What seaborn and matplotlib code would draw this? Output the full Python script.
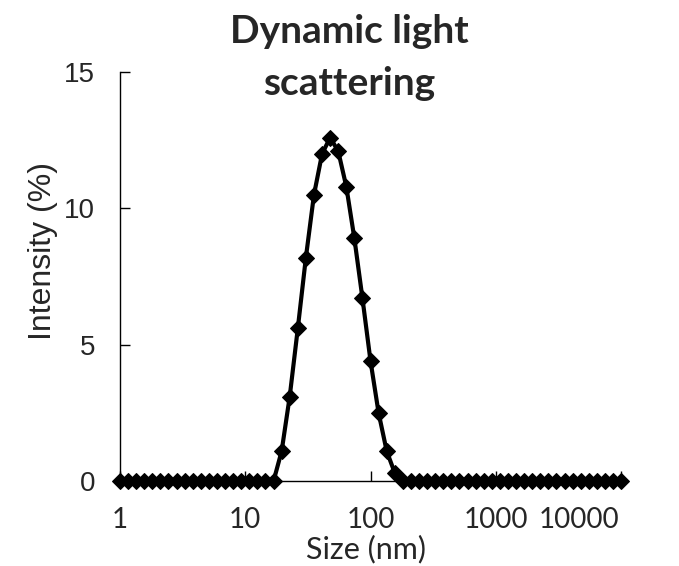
import numpy as np
import pandas as pd
import seaborn as sns
import matplotlib.pyplot as plt
from matplotlib.transforms import ScaledTranslation

# --- dados ---
tamanho_nm = [
    1.000, 1.160, 1.346, 1.561, 1.811, 2.101, 2.438, 2.828, 3.281, 3.807,
    4.417, 5.124, 5.945, 6.898, 8.003, 9.284, 10.77, 12.50, 14.50, 16.82,
    19.52, 22.64, 26.27, 30.48, 35.36, 41.03, 47.60, 55.22, 64.07, 74.32,
    86.23, 100.0, 116.0, 134.6, 156.1, 181.1, 210.1, 243.8, 282.8, 328.1,
    380.7, 441.7, 512.4, 594.5, 689.8, 800.3, 928.4, 1077, 1250, 1450,
    1682, 1952, 2264, 2627, 3048, 3536, 4103, 4760, 5522, 6407,
    7432, 8623, 10000,
]
intensidade = (
    [0.0] * 20
    + [1.1, 3.1, 5.6, 8.2, 10.5, 12.0, 12.6, 12.1, 10.8, 8.9,
       6.7, 4.4, 2.5, 1.1, 0.3]
    + [0.0] * 28
)
ticks_x = [1, 10, 100, 1000, 10000]
ticks_y = [0, 5, 10, 15]

dados = pd.DataFrame({'Size': tamanho_nm, 'Intensity': intensidade})

sns.set_style('white')
fig = plt.figure(figsize=(6.79, 5.66), dpi=100)
ax = fig.add_axes([0.1767, 0.150, 0.738, 0.7226])

sns.lineplot(data=dados, x='Size', y='Intensity', ax=ax, color='black',
             linewidth=3.0, marker='D', markersize=8, markeredgecolor='black',
             markerfacecolor='black', estimator=None, sort=False)
for linha in ax.lines:
    linha.set_clip_on(False)

ax.set_xscale('log')
ax.set_xlim(1, 10000)
ax.set_ylim(0, 15)
ax.set_xticks(ticks_x)
ax.set_xticklabels([str(t) for t in ticks_x], fontfamily='Lato', fontsize=20)
ax.set_yticks(ticks_y)
ax.set_yticklabels([str(t) for t in ticks_y], fontfamily='Liberation Sans', fontsize=20)
ax.minorticks_off()
ax.tick_params(axis='both', direction='in', length=7, width=1, color='black')
ax.tick_params(axis='x', pad=19, bottom=True)
ax.tick_params(axis='y', pad=18, left=True)

# o último rótulo do eixo x fica deslocado para dentro, como no original
ultimo = ax.get_xticklabels()[-1]
ultimo.set_horizontalalignment('right')
ultimo.set_transform(ultimo.get_transform() + ScaledTranslation(-2 / 100, 0, fig.dpi_scale_trans))

for lado in ['top', 'right']:
    ax.spines[lado].set_visible(False)
for lado in ['left', 'bottom']:
    ax.spines[lado].set_color('black')
    ax.spines[lado].set_linewidth(1.0)

ax.set_xlabel('')
ax.set_ylabel('')
fig.text(0.539, 0.030, 'Size (nm)', ha='center', va='center',
         fontfamily='Lato', fontsize=22)
fig.text(0.064, 0.5565, 'Intensity (%)', ha='center', va='center',
         rotation=90, fontfamily='Liberation Sans', fontsize=23)
fig.text(0.514, 0.945, 'Dynamic light', ha='center', va='center',
         fontfamily='Lato', fontweight='bold', fontsize=28)
fig.text(0.514, 0.852, 'scattering', ha='center', va='center',
         fontfamily='Lato', fontweight='bold', fontsize=28)

fig.savefig('out.png', dpi=100)
